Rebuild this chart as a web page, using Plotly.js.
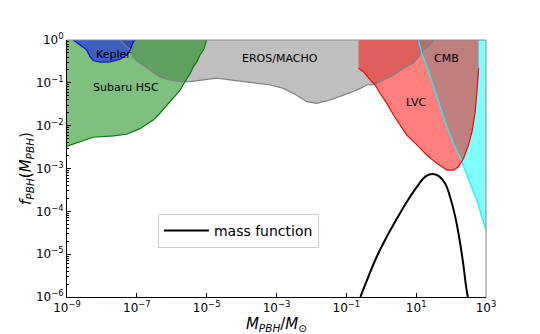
<!DOCTYPE html>
<html>
<head>
<meta charset="utf-8">
<script src="https://cdn.plot.ly/plotly-3.0.1.min.js"></script>
<style>
  html, body { margin: 0; padding: 0; background: #fff; }
  #chart { width: 540px; height: 334px; }
</style>
</head>
<body>
<div id="chart"></div>
<script>
// all values are log10
var kepM = [-8.82, -8.63, -8.44, -8.34, -8.25, -8.05, -7.77, -7.48, -7.29, -7.19, -7.15, -7.10, -7.05];
var kepF = [0, -0.12, -0.23, -0.39, -0.48, -0.52, -0.51, -0.45, -0.35, -0.23, -0.12, -0.04, 0];

var hscM = [-9.0, -8.63, -8.25, -7.67, -7.29, -6.91, -6.53, -6.34, -6.14, -5.95, -5.76, -5.62, -5.47, -5.38, -5.28, -5.19, -5.09, -5.0];
var hscF = [-2.48, -2.38, -2.27, -2.24, -2.20, -2.07, -1.87, -1.71, -1.52, -1.33, -1.17, -0.97, -0.78, -0.62, -0.51, -0.35, -0.23, 0];

var erosM = [-7.48, -7.39, -7.19, -7.10, -6.91, -6.62, -6.34, -6.05, -5.76, -5.48, -5.09, -4.71, -4.33, -3.95, -3.56, -3.18, -2.80, -2.42, -2.13, -1.85, -1.46, -1.18, -0.89, -0.60, -0.41, -0.22, 0.06, 0.35, 0.64, 0.92, 1.11, 1.21, 1.40, 1.50];
var erosF = [0, -0.08, -0.23, -0.42, -0.54, -0.70, -0.86, -0.93, -0.97, -0.97, -0.93, -0.89, -0.93, -0.97, -1.01, -1.05, -1.13, -1.29, -1.44, -1.48, -1.40, -1.32, -1.23, -1.13, -1.05, -1.04, -0.93, -0.82, -0.66, -0.54, -0.35, -0.23, -0.12, 0];

var lvcM = [-0.65, -0.51, -0.32, -0.175, -0.03, 0.16, 0.35, 0.54, 0.73, 1.02, 1.31, 1.59, 1.88, 2.07, 2.21, 2.36, 2.50, 2.60, 2.69, 2.74, 2.79];
var lvcF = [-0.66, -0.74, -0.93, -1.05, -1.25, -1.48, -1.75, -1.99, -2.22, -2.45, -2.69, -2.88, -3.04, -3.04, -2.96, -2.76, -2.45, -2.14, -1.68, -1.21, -0.66];

var cmbM = [1.07, 1.16, 1.31, 1.50, 1.69, 1.88, 2.07, 2.26, 2.40, 2.55, 2.74, 2.88, 3.0];
var cmbF = [0, -0.31, -0.62, -1.09, -1.56, -2.03, -2.41, -2.73, -3.04, -3.35, -3.74, -4.13, -4.44];

var mfM = [-0.60, -0.41, -0.13, 0.16, 0.45, 0.73, 1.02, 1.26, 1.45, 1.64, 1.83, 1.97, 2.12, 2.26, 2.36, 2.43, 2.48];
var mfF = [-6.0, -5.61, -5.06, -4.59, -4.17, -3.78, -3.43, -3.19, -3.13, -3.17, -3.35, -3.66, -4.13, -4.75, -5.30, -5.76, -6.0];

var xTicks = [-9, -7, -5, -3, -1, 1, 3];
var yTicks = [-6, -5, -4, -3, -2, -1, 0];

function pw(a) { return a.map(function (v) { return Math.pow(10, v); }); }
function sup(p) { return '10<sup>' + (p < 0 ? '\u2212' + (-p) : p) + '</sup>'; }

function region(m, f, fill) {
  return {x: pw(m), y: pw(f), mode: 'lines', fill: 'toself', fillcolor: fill,
          line: {width: 0}, hoverinfo: 'skip', showlegend: false};
}
function edge(m, f, color) {
  return {x: pw(m), y: pw(f), mode: 'lines', line: {color: color, width: 1.2},
          hoverinfo: 'skip', showlegend: false};
}

var data = [
  region(erosM, erosF, 'rgba(128,128,128,0.5)'),
  region(cmbM.concat([3.0]), cmbF.concat([0]), 'rgba(0,255,255,0.5)'),
  region(hscM.concat([-9.0]), hscF.concat([0]), 'rgba(0,128,0,0.5)'),
  region(kepM, kepF, 'rgba(0,0,255,0.5)'),
  region([lvcM[0]].concat(lvcM, [lvcM[lvcM.length - 1]]), [0].concat(lvcF, [0]), 'rgba(255,0,0,0.5)'),
  edge(erosM, erosF, 'gray'),
  edge(cmbM, cmbF, 'cyan'),
  edge(hscM, hscF, 'green'),
  edge(kepM, kepF, 'blue'),
  edge(lvcM, lvcF, 'red'),
  {x: pw(mfM), y: pw(mfF), mode: 'lines', name: 'mass function',
   line: {color: 'black', width: 2, shape: 'spline', smoothing: 1.2}}
];

var minorY = [];
for (var d = -6; d < 0; d++) for (var k = 2; k < 10; k++) minorY.push(k * Math.pow(10, d));

function label(txt, m, f) {
  return {text: txt, x: m, y: f, xref: 'x', yref: 'y', showarrow: false,
          font: {size: 11, color: 'black'}};
}

var layout = {
  width: 540, height: 334,
  margin: {l: 67, r: 54, t: 40, b: 37},
  paper_bgcolor: 'white', plot_bgcolor: 'white',
  font: {family: 'DejaVu Sans', color: 'black'},
  xaxis: {
    type: 'log', range: [-9, 3], showgrid: false, zeroline: false,
    showline: true, linecolor: 'black', linewidth: 1,
    ticks: 'inside', ticklen: 4, tickcolor: 'black',
    tickvals: pw(xTicks), ticktext: xTicks.map(sup), tickfont: {size: 12},
    title: {text: '<i>M</i><sub><i>PBH</i></sub>/<i>M</i><sub>\u2299</sub>', font: {size: 15}, standoff: 0}
  },
  yaxis: {
    type: 'log', range: [-6, 0], showgrid: false, zeroline: false,
    showline: true, linecolor: 'black', linewidth: 1,
    ticks: 'inside', ticklen: 4, tickcolor: 'black',
    tickvals: pw(yTicks), ticktext: yTicks.map(sup), tickfont: {size: 12},
    minor: {tickvals: minorY, ticks: 'inside', ticklen: 2, tickcolor: 'black', showgrid: false},
    title: {text: '<i>f</i><sub><i>PBH</i></sub>(<i>M</i><sub><i>PBH</i></sub>)', font: {size: 15}, standoff: 0}
  },
  shapes: [
    {type: 'line', xref: 'paper', yref: 'paper', x0: 0, x1: 1, y0: 1, y1: 1, line: {color: '#888', width: 1}},
    {type: 'line', xref: 'paper', yref: 'paper', x0: 1, x1: 1, y0: 0, y1: 1, line: {color: '#888', width: 1}}
  ],
  annotations: [
    label('Kepler', -7.68, -0.35),
    label('Subaru HSC', -7.31, -1.10),
    label('EROS/MACHO', -2.90, -0.44),
    label('LVC', 1.0, -1.45),
    label('CMB', 1.86, -0.44)
  ],
  showlegend: true,
  legend: {x: 0.217, y: 0.323, xanchor: 'left', yanchor: 'top',
           bgcolor: 'white', bordercolor: '#ccc', borderwidth: 1,
           itemwidth: 45, font: {size: 14}}
};

Plotly.newPlot('chart', data, layout, {displayModeBar: false, staticPlot: true});
</script>
</body>
</html>
